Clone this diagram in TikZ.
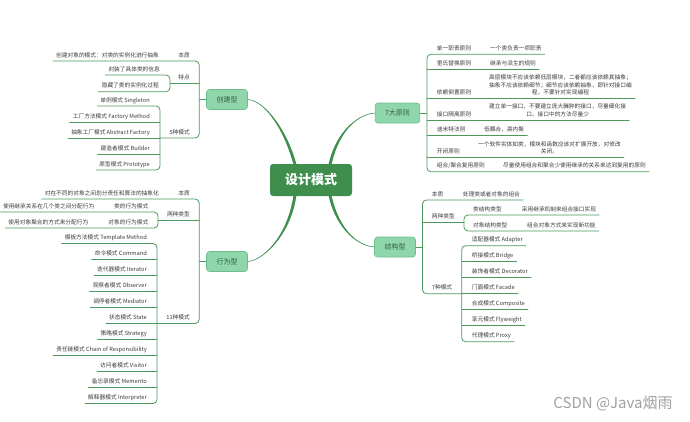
\documentclass[tikz,border=0pt]{standalone}
\usepackage{fontspec}
\setmainfont{Noto Sans CJK SC}
\usepackage{tikz}
\usepackage{xcolor}
\definecolor{rootgreen}{RGB}{63,142,77}
\definecolor{topicfill}{RGB}{143,214,170}
\definecolor{topicedge}{RGB}{109,191,138}
\definecolor{topictext}{RGB}{52,94,70}
\definecolor{linegreen}{RGB}{76,154,91}
\definecolor{leaftext}{RGB}{58,58,58}
\definecolor{markgray}{RGB}{160,160,160}

\begin{document}
\begin{tikzpicture}[x=1pt,y=-1pt,line cap=round,
  root/.style={fill=rootgreen,text=white,rounded corners=3pt,minimum width=82pt,minimum height=32pt,font=\fontsize{13}{15}\selectfont\bfseries},
  topic/.style={fill=topicfill,draw=topicedge,line width=0.6pt,rounded corners=3pt,minimum height=20pt,inner xsep=10pt,text=topictext,font=\fontsize{7}{8.4}\selectfont},
  leaf/.style={inner xsep=3pt,inner ysep=2.6pt,text depth=1.2pt,text=leaftext,font=\fontsize{5.7}{7.3}\selectfont},
  lt/.style={leaf,anchor=south east},
  rt/.style={leaf,anchor=south west},
  branch/.style={draw=linegreen,line width=0.8pt,rounded corners=4pt},
  taper/.style={fill=rootgreen}]
\useasboundingbox (0,0) rectangle (690,421);

\node[root] (root) at (311,180) {设计模式};
\node[topic] (cre) at (227,99.5) {创建型};
\node[topic] (pri) at (397.5,113) {7大原则};
\node[topic] (beh) at (227,261.5) {行为型};
\node[topic] (str) at (395,247) {结构型};

\coordinate (rTL) at ([xshift=25pt]root.north west);
\coordinate (rTR) at ([xshift=-22pt]root.north east);
\coordinate (rBL) at ([xshift=25pt]root.south west);
\coordinate (rBR) at ([xshift=-22pt]root.south east);
\fill[taper] ([xshift=-1.5pt]rTL) .. controls +(-11,-39) and +(15,1) .. (cre.east) .. controls +(15,1) and +(-11,-39) .. ([xshift=1.5pt]rTL) -- cycle;
\fill[taper] ([xshift=-1.5pt]rTR) .. controls +(8,-35) and +(-15,1) .. (pri.west) .. controls +(-15,1) and +(8,-35) .. ([xshift=1.5pt]rTR) -- cycle;
\fill[taper] ([xshift=-1.5pt]rBL) .. controls +(-6,40) and +(15,-1) .. (beh.east) .. controls +(15,-1) and +(-6,40) .. ([xshift=1.5pt]rBL) -- cycle;
\fill[taper] ([xshift=-1.5pt]rBR) .. controls +(8,35) and +(-15,-1) .. (str.west) .. controls +(-15,-1) and +(8,35) .. ([xshift=1.5pt]rBR) -- cycle;
\draw[rootgreen,line width=0.5pt] (rTL) .. controls +(-11,-39) and +(15,1) .. (cre.east);
\draw[rootgreen,line width=0.5pt] (rTR) .. controls +(8,-35) and +(-15,1) .. (pri.west);
\draw[rootgreen,line width=0.5pt] (rBL) .. controls +(-6,40) and +(15,-1) .. (beh.east);
\draw[rootgreen,line width=0.5pt] (rBR) .. controls +(8,35) and +(-15,-1) .. (str.west);

\coordinate (creT) at ([xshift=-7pt]cre.west);
\coordinate (behT) at ([xshift=-7pt]beh.west);
\coordinate (priT) at ([xshift=6.7pt]pri.east);
\coordinate (strT) at ([xshift=6.7pt]str.east);
\coordinate (creBT) at (170,83.3);
\coordinate (creCT) at (160,138);
\coordinate (behBT) at (158,220);
\coordinate (behCT) at (157,323.5);
\coordinate (strBT) at (464,222.7);
\coordinate (strCT) at (461.7,293.7);

\node[lt] (creA) at (193,61) {本质};
\node[lt] (creA1) at (162,61) {创建对象的模式：对类的实例化进行抽象};
\node[lt] (creB) at (193,83.3) {特点};
\node[lt] (creB1) at (163,75) {封装了具体类的信息};
\node[lt] (creB2) at (162,91.7) {隐藏了类的实例化过程};
\node[lt] (creC) at (193,138) {5种模式};
\node[lt] (creC1) at (153,106) {单例模式 Singleton};
\node[lt] (creC2) at (153,122) {工厂方法模式 Factory Method};
\node[lt] (creC3) at (153,138) {抽象工厂模式 Abstract Factory};
\node[lt] (creC4) at (153,154) {建造者模式 Builder};
\node[lt] (creC5) at (153,170) {原型模式 Prototype};

\draw[branch] (cre.west) -- (creT);
\draw[branch] (creA1.south west) -- (creA.south east -| creT) -- (creC.south east -| creT) -- (creCT);
\draw[branch] (creB.south east -| creT) -- (creBT);
\draw[branch] (creB1.south west) -- (creB1.south west -| creBT) -- (creB2.south west -| creBT) -- (creB2.south west);
\draw[branch] (creC1.south west) -- (creC1.south west -| creCT) -- (creC5.south west -| creCT) -- (creC5.south west);
\draw[branch] (creC2.south west) -- (creC2.south west -| creCT);
\draw[branch] (creC3.south west) -- (creCT);
\draw[branch] (creC4.south west) -- (creC4.south west -| creCT);

\node[lt] (behA) at (193,199) {本质};
\node[lt] (behA1) at (162,199) {对在不同的对象之间划分责任和算法的抽象化};
\node[lt] (behB) at (193,220) {两种类型};
\node[lt] (behB1) at (151.5,212) {类的行为模式};
\node[lt] (behB1x) at (97.5,212) {使用继承关系在几个类之间分配行为};
\node[lt] (behB2) at (151.5,228) {对象的行为模式};
\node[lt] (behB2x) at (91.5,228) {使用对象聚合的方式来分配行为};
\node[lt] (behC) at (193,323.5) {11种模式};
\node[lt] (behC1) at (150,243.5) {模板方法模式 Template Method};
\node[lt] (behC2) at (150,259.5) {命令模式 Command};
\node[lt] (behC3) at (150,275.5) {迭代器模式 Iterator};
\node[lt] (behC4) at (150,291.5) {观察者模式 Observer};
\node[lt] (behC5) at (150,307.5) {调停者模式 Mediator};
\node[lt] (behC6) at (150,323.5) {状态模式 State};
\node[lt] (behC7) at (150,339.5) {策略模式 Strategy};
\node[lt] (behC8) at (150,355.5) {责任链模式 Chain of Responsibility};
\node[lt] (behC9) at (150,371.5) {访问者模式 Visitor};
\node[lt] (behC10) at (150,387.5) {备忘录模式 Memento};
\node[lt] (behC11) at (150,403.5) {解释器模式 Interpreter};

\draw[branch] (beh.west) -- (behT);
\draw[branch] (behA1.south west) -- (behA.south east -| behT) -- (behC.south east -| behT) -- (behCT);
\draw[branch] (behB.south east -| behT) -- (behBT);
\draw[branch] (behB1x.south west) -- (behB1.south east -| behBT) -- (behB2.south east -| behBT) -- (behB2x.south west);
\draw[branch] (behC1.south west) -- (behC1.south east -| behCT) -- (behC11.south east -| behCT) -- (behC11.south west);
\draw[branch] (behC2.south west) -- (behC2.south east -| behCT);
\draw[branch] (behC3.south west) -- (behC3.south east -| behCT);
\draw[branch] (behC4.south west) -- (behC4.south east -| behCT);
\draw[branch] (behC5.south west) -- (behC5.south east -| behCT);
\draw[branch] (behC6.south west) -- (behCT);
\draw[branch] (behC7.south west) -- (behC7.south east -| behCT);
\draw[branch] (behC8.south west) -- (behC8.south east -| behCT);
\draw[branch] (behC9.south west) -- (behC9.south east -| behCT);
\draw[branch] (behC10.south west) -- (behC10.south east -| behCT);

\node[rt] (priA) at (433.7,54.3) {单一职责原则};
\node[rt] (priA1) at (487,54.3) {一个类负责一项职责};
\node[rt] (priB) at (433.7,69.3) {里氏替换原则};
\node[rt] (priB1) at (487,69.3) {继承与派生的规则};
\node[rt] (priC) at (433.7,98.3) {依赖倒置原则};
\node[rt,align=center] (priC1) at (486,98.3) {高层模块不应该依赖低层模块，二者都应该依赖其抽象；\\抽象不应该依赖细节；细节应该依赖抽象，即针对接口编\\程，不要针对实现编程};
\node[rt] (priD) at (433.7,120) {接口隔离原则};
\node[rt,align=center] (priD1) at (486,120) {建立单一接口，不要建立庞大臃肿的接口，尽量细化接\\口，接口中的方法尽量少};
\node[rt] (priE) at (433.7,135) {迪米特法则};
\node[rt] (priE1) at (481,135) {低耦合，高内聚};
\node[rt] (priF) at (433.7,157.7) {开闭原则};
\node[rt,align=center] (priF1) at (475,157.7) {一个软件实体如类，模块和函数应该对扩展开放，对修改\\关闭。};
\node[rt] (priG) at (433.7,171.7) {组合/聚合复用原则};
\node[rt] (priG1) at (500,171.7) {尽量使用组合和聚合少使用继承的关系来达到复用的原则};

\draw[branch] (pri.east) -- (priT);
\draw[branch] (priA1.south east) -- (priA.south west -| priT) -- (priG.south west -| priT) -- (priG1.south east);
\draw[branch] (priB1.south east) -- (priB.south west -| priT);
\draw[branch] (priC1.south east) -- (priC.south west -| priT);
\draw[branch] (priD1.south east) -- (priD.south west -| priT);
\draw[branch] (priE1.south east) -- (priE.south west -| priT);
\draw[branch] (priF1.south east) -- (priF.south west -| priT);

\node[rt] (strA) at (428.7,200) {本质};
\node[rt] (strA1) at (459.7,200) {处理类或者对象的组合};
\node[rt] (strB) at (428.7,222.7) {两种类型};
\node[rt] (strB1) at (470,215) {类结构类型};
\node[rt] (strB1x) at (518.7,215) {采用继承机制来组合接口实现};
\node[rt] (strB2) at (470,231) {对象结构类型};
\node[rt] (strB2x) at (524,231) {组合对象方式来实现新功能};
\node[rt] (strC) at (428.7,293.7) {7种模式};
\node[rt] (strC1) at (468.7,245.7) {适配器模式 Adapter};
\node[rt] (strC2) at (468.7,261.7) {桥接模式 Bridge};
\node[rt] (strC3) at (468.7,277.7) {装饰者模式 Decorator};
\node[rt] (strC4) at (468.7,293.7) {门面模式 Facade};
\node[rt] (strC5) at (468.7,309.7) {合成模式 Composite};
\node[rt] (strC6) at (468.7,325.7) {享元模式 Flyweight};
\node[rt] (strC7) at (468.7,341.7) {代理模式 Proxy};

\draw[branch] (str.east) -- (strT);
\draw[branch] (strA1.south east) -- (strA.south west -| strT) -- (strC.south west -| strT) -- (strCT);
\draw[branch] (strB.south west -| strT) -- (strBT);
\draw[branch] (strB1x.south east) -- (strB1.south west -| strBT) -- (strB2.south west -| strBT) -- (strB2x.south east);
\draw[branch] (strC1.south east) -- (strC1.south west -| strCT) -- (strC7.south west -| strCT) -- (strC7.south east);
\draw[branch] (strC2.south east) -- (strC2.south west -| strCT);
\draw[branch] (strC3.south east) -- (strC3.south west -| strCT);
\draw[branch] (strC4.south east) -- (strCT);
\draw[branch] (strC5.south east) -- (strC5.south west -| strCT);
\draw[branch] (strC6.south east) -- (strC6.south west -| strCT);

\node[text=markgray,font=\fontsize{15}{18}\selectfont,anchor=base] (mark) at (613,408) {CSDN @Java烟雨};
\end{tikzpicture}
\end{document}
